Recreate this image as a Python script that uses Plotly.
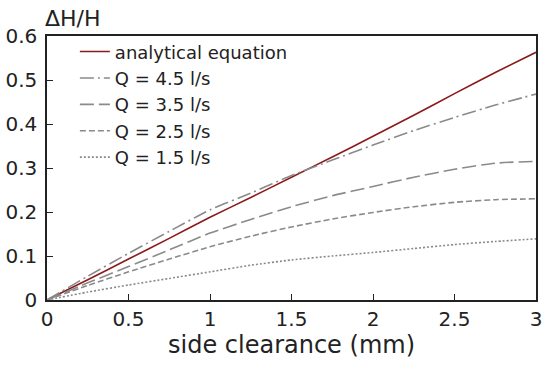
import plotly.graph_objects as go

x = [0, 0.25, 0.5, 0.75, 1.0, 1.25, 1.5, 1.75, 2.0, 2.25, 2.5, 2.75, 3.0]
analytical = [0, 0.046, 0.093, 0.140, 0.188, 0.233, 0.279, 0.325, 0.372, 0.420, 0.469, 0.517, 0.563]
q45 = [0, 0.054, 0.106, 0.156, 0.205, 0.243, 0.283, 0.318, 0.352, 0.385, 0.415, 0.443, 0.468]
q35 = [0, 0.039, 0.076, 0.114, 0.152, 0.183, 0.212, 0.237, 0.258, 0.279, 0.297, 0.311, 0.315]
q25 = [0, 0.033, 0.064, 0.093, 0.121, 0.145, 0.166, 0.184, 0.199, 0.212, 0.222, 0.228, 0.230]
q15 = [0, 0.018, 0.034, 0.049, 0.064, 0.079, 0.091, 0.100, 0.108, 0.117, 0.126, 0.133, 0.139]

names = ["analytical equation", "Q = 4.5 l/s", "Q = 3.5 l/s", "Q = 2.5 l/s", "Q = 1.5 l/s"]
series = [analytical, q45, q35, q25, q15]
colors = ["#8b1a1a", "#8a8a8a", "#8a8a8a", "#8a8a8a", "#8a8a8a"]
dashes = ["solid", "14px,4px,2px,4px", "14px,5px", "6px,3px", "2px,2px"]

fig = go.Figure()
for n, s, c, d in zip(names, series, colors, dashes):
    fig.add_trace(go.Scatter(x=x, y=s, name=n, mode="lines",
                             line=dict(color=c, width=1.6, dash=d,
                                       shape="spline", smoothing=0.6)))

font = "DejaVu Sans, Verdana, sans-serif"
fig.update_layout(
    width=550, height=366,
    margin=dict(l=47, r=14, t=36, b=66),
    paper_bgcolor="white", plot_bgcolor="white",
    font=dict(family=font, size=20, color="#222"),
    showlegend=True,
    legend=dict(x=0.057, y=1.01, xanchor="left", yanchor="top",
                bgcolor="rgba(0,0,0,0)", font=dict(size=18),
                tracegroupgap=0),
    xaxis=dict(range=[0, 3], tickvals=[0, 0.5, 1, 1.5, 2, 2.5, 3],
               ticktext=["0", "0.5", "1", "1.5", "2", "2.5", "3"],
               ticks="inside", ticklen=6, tickcolor="#222",
               showline=True, linecolor="#222", linewidth=1.5, mirror=True,
               showgrid=False, zeroline=False, automargin=False,
               title=dict(text="side clearance (mm)", font=dict(size=24), standoff=4)),
    yaxis=dict(range=[0, 0.6], tickvals=[0, 0.1, 0.2, 0.3, 0.4, 0.5, 0.6],
               ticktext=["0", "0.1", "0.2", "0.3", "0.4", "0.5", "0.6"],
               ticks="inside", ticklen=6, tickcolor="#222",
               ticklabelstandoff=4, automargin=False,
               showline=True, linecolor="#222", linewidth=1.5, mirror=True,
               showgrid=False, zeroline=False),
    annotations=[dict(text="ΔH/H", x=0, y=1, xref="paper", yref="paper",
                      xanchor="left", yanchor="bottom", yshift=3, xshift=-4,
                      showarrow=False, font=dict(size=22))],
)
fig.write_html("out.html", config={"displayModeBar": False},
               post_script="document.body.style.margin='0';")
